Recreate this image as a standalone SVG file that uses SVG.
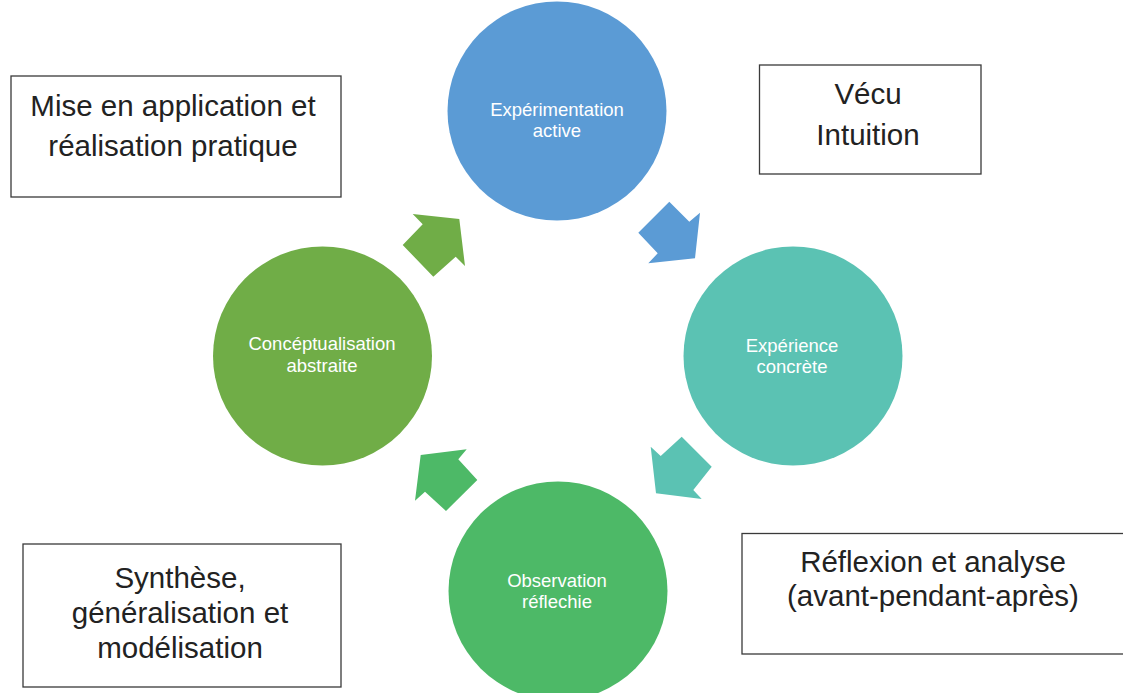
<svg xmlns="http://www.w3.org/2000/svg" width="1123" height="693" viewBox="0 0 1123 693">
<style>
.box{fill:#fff;stroke:#3a3a3a;stroke-width:1.3}
.bt{font-family:"Liberation Sans",Arial,sans-serif;font-size:29.5px;fill:#222;text-anchor:middle}
.ct{font-family:"Liberation Sans",Arial,sans-serif;font-size:18.5px;fill:#fff;text-anchor:middle}
</style>
<rect width="1123" height="693" fill="#fff"/>
<g id="connectors">
<polygon fill="#70AD47" points="412.7,214 459.3,219 465,266 455.7,256.7 433.3,276.7 402.7,245 422.7,224.3"/>
<polygon fill="#5B9BD5" points="669.3,201.7 689.3,221.7 700,212.7 695,258.3 648.3,263.3 657.7,253.3 638.3,232.7"/>
<polygon fill="#5BC2B3" points="681.7,436.7 711.7,466.7 693.3,490 701.7,499 656,493.3 650.7,446.7 660.7,456"/>
<polygon fill="#4DB967" points="466.7,449.3 458.3,459.3 477.3,480 446,511 425,491.7 415,500.7 420.7,455"/>
</g>
<g id="n-experimentation">
<circle cx="557" cy="111" r="109.5" fill="#5B9BD5"/>
<text class="ct" x="557" y="116">Expérimentation</text>
<text class="ct" x="557" y="137">active</text>
</g>
<g id="n-experience">
<circle cx="793" cy="356" r="109.5" fill="#5BC2B3"/>
<text class="ct" x="792" y="352">Expérience</text>
<text class="ct" x="792" y="373">concrète</text>
</g>
<g id="n-observation">
<circle cx="558" cy="591" r="109.5" fill="#4DB967"/>
<text class="ct" x="557" y="587">Observation</text>
<text class="ct" x="557" y="608">réflechie</text>
</g>
<g id="n-conceptualisation">
<circle cx="322.5" cy="356" r="109.5" fill="#70AD47"/>
<text class="ct" x="322" y="350">Concéptualisation</text>
<text class="ct" x="322" y="372">abstraite</text>
</g>
<g id="b-application">
<rect class="box" x="11" y="76" width="330" height="121"/>
<text class="bt" x="173" y="116">Mise en application et</text>
<text class="bt" x="173" y="156">réalisation pratique</text>
</g>
<g id="b-vecu">
<rect class="box" x="759.5" y="65" width="221.5" height="109"/>
<text class="bt" x="868" y="104">Vécu</text>
<text class="bt" x="868" y="145">Intuition</text>
</g>
<g id="b-synthese">
<rect class="box" x="23" y="544" width="318" height="143"/>
<text class="bt" x="180" y="588">Synthèse,</text>
<text class="bt" x="180" y="623">généralisation et</text>
<text class="bt" x="180" y="658">modélisation</text>
</g>
<g id="b-reflexion">
<rect class="box" x="742" y="533.5" width="390" height="120.5"/>
<text class="bt" x="933" y="572">Réflexion et analyse</text>
<text class="bt" x="933" y="606">(avant-pendant-après)</text>
</g>
</svg>
